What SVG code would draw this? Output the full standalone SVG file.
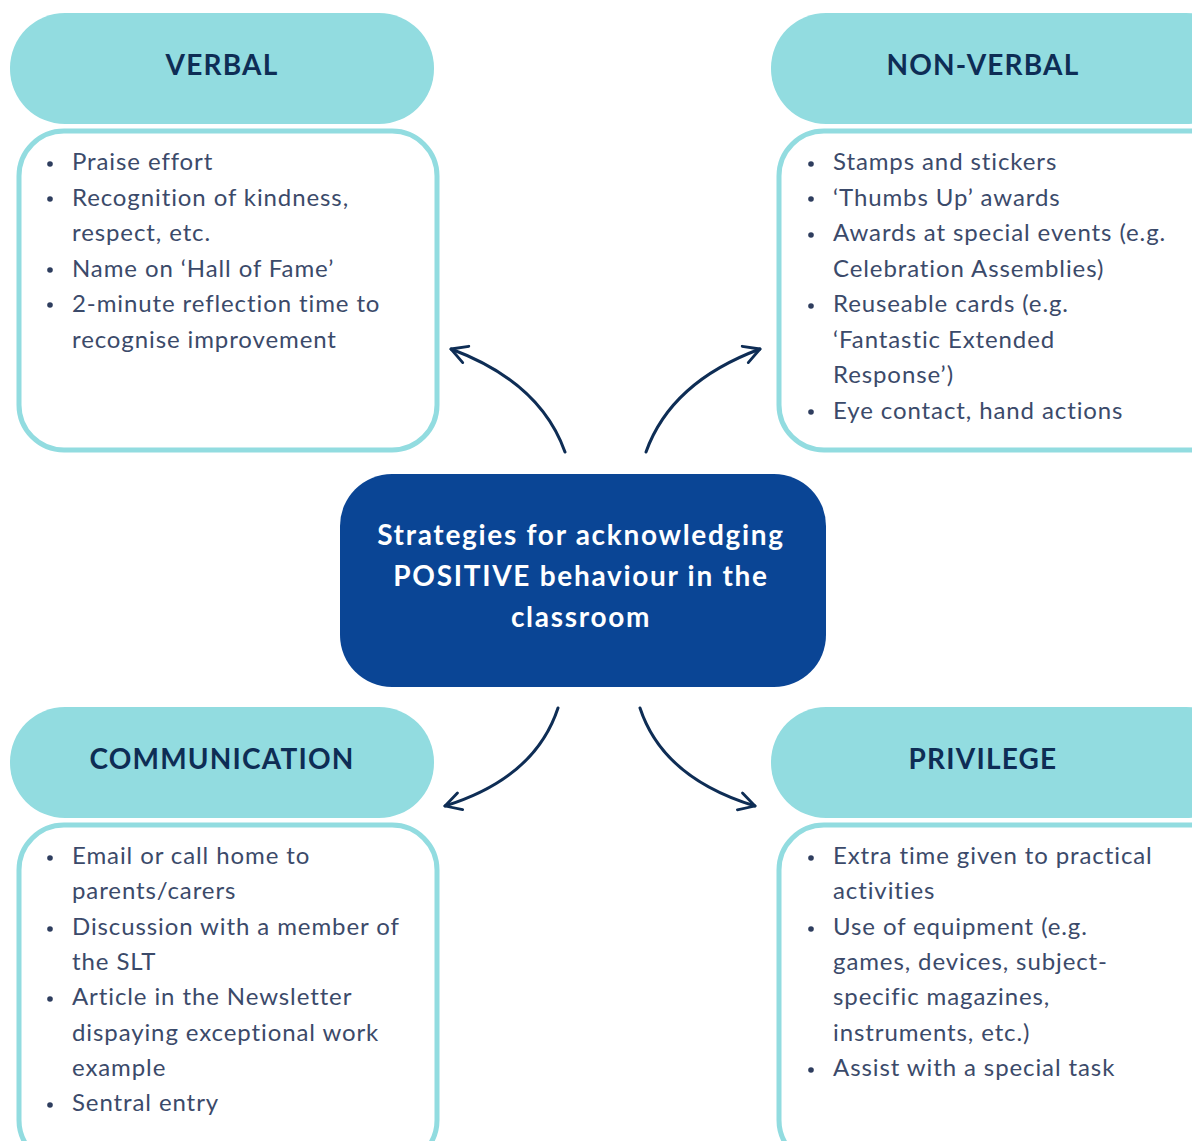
<svg xmlns="http://www.w3.org/2000/svg" width="1192" height="1141" viewBox="0 0 1192 1141">
<style>
.hdr{fill:#92DCE0}
.body{fill:#fff;stroke:#92DCE0;stroke-width:5}
.ttl{font-family:Lato,"Liberation Sans",sans-serif;font-weight:700;font-size:28px;letter-spacing:1.2px;fill:#0E2D55;text-anchor:middle}
.txt{font-family:Lato,"Liberation Sans",sans-serif;font-size:24px;letter-spacing:0.9px;fill:#3B4A6A}
.ctr{font-family:Lato,"Liberation Sans",sans-serif;font-weight:700;font-size:28px;letter-spacing:1.7px;fill:#fff;text-anchor:middle}
.dot{fill:#2E3D5E}
.arr{fill:none;stroke:#0E2D55;stroke-width:3;stroke-linecap:round;marker-end:url(#ah)}
</style>
<defs>
<marker id="ah" viewBox="0 0 12 12" refX="10" refY="6" markerWidth="7" markerHeight="7" orient="auto" markerUnits="strokeWidth">
<path d="M1,1 L10,6 L1,11" fill="none" stroke="#0E2D55" stroke-width="1.6" stroke-linecap="round" stroke-linejoin="round"/>
</marker>
</defs>
<rect width="1192" height="1141" fill="#fff"/>

<g id="verbal">
<rect class="hdr" x="10" y="13" width="424" height="111" rx="55"/>
<text class="ttl" x="222" y="75">VERBAL</text>
<rect class="body" x="19" y="131" width="418" height="319" rx="45"/>
<circle class="dot" cx="50" cy="164" r="2.8"/>
<circle class="dot" cx="50" cy="199" r="2.8"/>
<circle class="dot" cx="50" cy="270" r="2.8"/>
<circle class="dot" cx="50" cy="305" r="2.8"/>
<text class="txt" x="72" y="170">Praise effort</text>
<text class="txt" x="72" y="206">Recognition of kindness,</text>
<text class="txt" x="72" y="241">respect, etc.</text>
<text class="txt" x="72" y="277">Name on ‘Hall of Fame’</text>
<text class="txt" x="72" y="312">2-minute reflection time to</text>
<text class="txt" x="72" y="348">recognise improvement</text>
</g>

<g id="nonverbal">
<rect class="hdr" x="771" y="13" width="470" height="111" rx="55"/>
<text class="ttl" x="983" y="75">NON-VERBAL</text>
<rect class="body" x="779" y="131" width="460" height="319" rx="45"/>
<circle class="dot" cx="811" cy="164" r="2.8"/>
<circle class="dot" cx="811" cy="199" r="2.8"/>
<circle class="dot" cx="811" cy="235" r="2.8"/>
<circle class="dot" cx="811" cy="306" r="2.8"/>
<circle class="dot" cx="811" cy="412" r="2.8"/>
<text class="txt" x="833" y="170">Stamps and stickers</text>
<text class="txt" x="833" y="206">‘Thumbs Up’ awards</text>
<text class="txt" x="833" y="241">Awards at special events (e.g.</text>
<text class="txt" x="833" y="277">Celebration Assemblies)</text>
<text class="txt" x="833" y="312">Reuseable cards (e.g.</text>
<text class="txt" x="833" y="348">‘Fantastic Extended</text>
<text class="txt" x="833" y="383">Response’)</text>
<text class="txt" x="833" y="419">Eye contact, hand actions</text>
</g>

<g id="center">
<rect x="340" y="474" width="486" height="213" rx="52" fill="#0A4595"/>
<text class="ctr" x="581" y="545">Strategies for acknowledging</text>
<text class="ctr" x="581" y="586">POSITIVE behaviour in the</text>
<text class="ctr" x="581" y="627">classroom</text>
</g>

<g id="communication">
<rect class="hdr" x="10" y="707" width="424" height="111" rx="55"/>
<text class="ttl" x="222" y="769">COMMUNICATION</text>
<rect class="body" x="19" y="825" width="418" height="340" rx="45"/>
<circle class="dot" cx="50" cy="858" r="2.8"/>
<circle class="dot" cx="50" cy="929" r="2.8"/>
<circle class="dot" cx="50" cy="999" r="2.8"/>
<circle class="dot" cx="50" cy="1105" r="2.8"/>
<text class="txt" x="72" y="864">Email or call home to</text>
<text class="txt" x="72" y="899">parents/carers</text>
<text class="txt" x="72" y="935">Discussion with a member of</text>
<text class="txt" x="72" y="970">the SLT</text>
<text class="txt" x="72" y="1005">Article in the Newsletter</text>
<text class="txt" x="72" y="1041">dispaying exceptional work</text>
<text class="txt" x="72" y="1076">example</text>
<text class="txt" x="72" y="1111">Sentral entry</text>
</g>

<g id="privilege">
<rect class="hdr" x="771" y="707" width="470" height="111" rx="55"/>
<text class="ttl" x="983" y="769">PRIVILEGE</text>
<rect class="body" x="779" y="825" width="460" height="340" rx="45"/>
<circle class="dot" cx="811" cy="858" r="2.8"/>
<circle class="dot" cx="811" cy="929" r="2.8"/>
<circle class="dot" cx="811" cy="1070" r="2.8"/>
<text class="txt" x="833" y="864">Extra time given to practical</text>
<text class="txt" x="833" y="899">activities</text>
<text class="txt" x="833" y="935">Use of equipment (e.g.</text>
<text class="txt" x="833" y="970">games, devices, subject-</text>
<text class="txt" x="833" y="1005">specific magazines,</text>
<text class="txt" x="833" y="1041">instruments, etc.)</text>
<text class="txt" x="833" y="1076">Assist with a special task</text>
</g>

<g id="connectors">
<path class="arr" d="M565,452 Q540,382 451,349"/>
<path class="arr" d="M646,452 Q671,382 760,349"/>
<path class="arr" d="M558,708 Q535,778 445,806"/>
<path class="arr" d="M640,708 Q663,778 755,806"/>
</g>
</svg>
